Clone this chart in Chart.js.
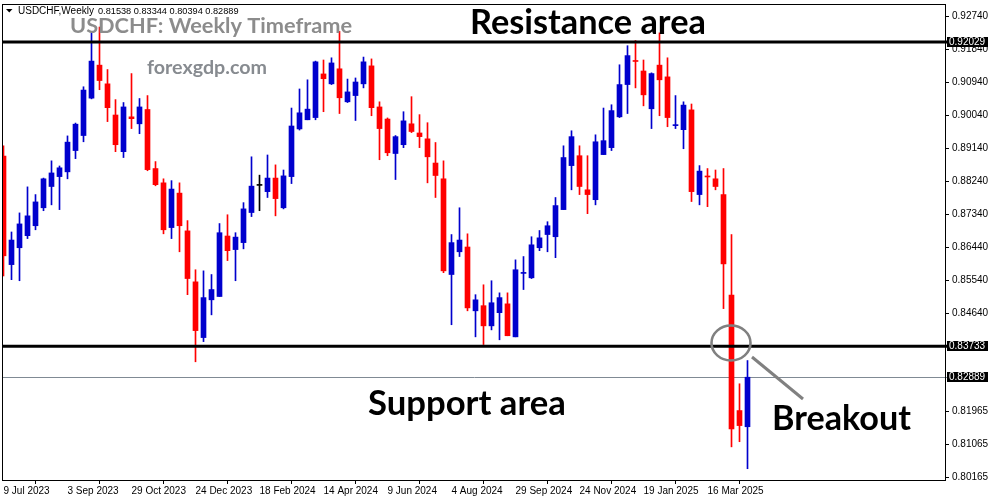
<!DOCTYPE html>
<html><head><meta charset="utf-8">
<script src="https://cdn.jsdelivr.net/npm/chart.js@4.4.1/dist/chart.umd.min.js"></script>
<style>html,body{margin:0;padding:0;background:#fff;overflow:hidden}#wrap{width:991px;height:501px;position:relative}canvas{display:block}</style>
</head><body><div id="wrap"><canvas id="c" width="991" height="501"></canvas></div>
<script>
// Weekly USDCHF candles, 9 Jul 2023 .. 20 Apr 2025 (one entry per week)
const opens = [0.8892,0.8596,0.8642,0.8675,0.8702,0.8751,0.8809,0.8836,0.8849,0.8907,
  0.8948,0.9050,0.9140,0.9089,0.9004,0.8904,0.8999,0.8980,0.9019,0.8858,
  0.8819,0.8697,0.8791,0.8688,0.8549,0.8397,0.8500,0.8509,0.8674,0.8637,
  0.8656,0.8738,0.8812,0.8795,0.8832,0.8751,0.8836,0.8966,0.8991,0.8997,
  0.9116,0.9089,0.9130,0.9040,0.9057,0.9089,0.9138,0.9026,0.8993,0.8899,
  0.8923,0.8980,0.8955,0.8939,0.8873,0.8830,0.8569,0.8631,0.8644,0.8470,
  0.8484,0.8429,0.8465,0.8489,0.8399,0.8572,0.8560,0.8642,0.8678,0.8672,
  0.8746,0.8866,0.8893,0.8800,0.8773,0.8896,0.8915,0.8999,0.9087,0.9152,
  0.9124,0.9021,0.9140,0.9108,0.8975,0.8964,0.9018,0.8787,0.8837,0.8830,
  0.8787,0.8513,0.8198,0.81538];
const highs = [0.8920,0.8685,0.8737,0.8808,0.8787,0.8832,0.8879,0.8865,0.8947,0.8982,
  0.9081,0.9232,0.9244,0.9128,0.9046,0.9038,0.9117,0.9049,0.9057,0.8877,
  0.8830,0.8825,0.8819,0.8716,0.8582,0.8579,0.8569,0.8708,0.8732,0.8683,
  0.8765,0.8890,0.8840,0.8895,0.8868,0.8854,0.9023,0.9075,0.9100,0.9151,
  0.9154,0.9160,0.9232,0.9102,0.9105,0.9162,0.9157,0.9040,0.8996,0.8948,
  0.9013,0.9054,0.9005,0.8983,0.8929,0.8879,0.8678,0.8751,0.8680,0.8514,
  0.8541,0.8552,0.8519,0.8519,0.8609,0.8618,0.8672,0.8689,0.8713,0.8779,
  0.8920,0.8961,0.8920,0.8893,0.8950,0.9023,0.9032,0.9141,0.9193,0.9207,
  0.9154,0.9119,0.9228,0.9160,0.9057,0.9040,0.9034,0.8866,0.8858,0.8854,
  0.8858,0.8678,0.8271,0.83344];
const lows = [0.8565,0.8555,0.8552,0.8667,0.8691,0.8743,0.8759,0.8746,0.8830,0.8885,
  0.8931,0.9048,0.9073,0.8986,0.8904,0.8888,0.8967,0.8953,0.8852,0.8811,
  0.8680,0.8667,0.8631,0.8514,0.8331,0.8386,0.8459,0.8509,0.8607,0.8552,
  0.8639,0.8727,0.8743,0.8779,0.8729,0.8748,0.8817,0.8963,0.8991,0.8991,
  0.9013,0.9087,0.9008,0.9038,0.8989,0.9078,0.9002,0.8882,0.8893,0.8828,
  0.8915,0.8956,0.8915,0.8819,0.8779,0.8574,0.8432,0.8618,0.8470,0.8399,
  0.8378,0.8418,0.8391,0.8402,0.8399,0.8528,0.8558,0.8634,0.8631,0.8615,
  0.8746,0.8800,0.8787,0.8735,0.8759,0.8896,0.8907,0.8997,0.9008,0.9078,
  0.9029,0.8967,0.9002,0.8972,0.8967,0.8912,0.8768,0.8759,0.8754,0.8800,
  0.8476,0.8099,0.8113,0.80394];
const closes = [0.8620,0.8663,0.8707,0.8729,0.8767,0.8830,0.8846,0.8860,0.8930,0.8979,
  0.9072,0.9151,0.9098,0.9024,0.8923,0.9026,0.8994,0.9026,0.8855,0.8814,
  0.8691,0.8802,0.8702,0.8558,0.8416,0.8506,0.8528,0.8683,0.8634,0.8671,
  0.8748,0.8810,0.8812,0.8832,0.8776,0.8838,0.8974,0.9010,0.9020,0.9149,
  0.9103,0.9146,0.9051,0.9067,0.9094,0.9149,0.9024,0.8967,0.8901,0.8945,
  0.8988,0.8959,0.8945,0.8890,0.8839,0.8579,0.8656,0.8663,0.8478,0.8500,
  0.8429,0.8492,0.8506,0.8402,0.8582,0.8573,0.8650,0.8669,0.8702,0.8757,
  0.8888,0.8945,0.8809,0.8787,0.8931,0.8934,0.9016,0.9087,0.9166,0.9150,
  0.9059,0.9117,0.9100,0.8997,0.8976,0.9031,0.8795,0.8851,0.8835,0.8809,
  0.8598,0.8148,0.8157,0.82889];
const tickIdx = [0,8,16,24,32,40,48,56,64,72,80,88];
const tickLabels = ['9 Jul 2023','3 Sep 2023','29 Oct 2023','24 Dec 2023','18 Feb 2024','14 Apr 2024',
  '9 Jun 2024','4 Aug 2024','29 Sep 2024','24 Nov 2024','19 Jan 2025','16 Mar 2025'];
const yTicks = [0.92740,0.91840,0.90940,0.90040,0.89140,0.88240,0.87340,0.86440,0.85540,0.84640,0.83733,0.82889,0.81965,0.81065,0.80165];
const resistance = 0.92029;
const support = 0.83733;
const lastPrice = 0.82889;

const BLUE = '#0000cd', RED = '#ff0000', BLACK = '#000000';
const colors = opens.map((o,i)=> closes[i] > o ? BLUE : (closes[i] < o ? RED : BLACK));

function fitText(ctx, txt, left, width, baseline, color, family){
  ctx.save();
  ctx.font = 'bold 100px ' + family;
  const w = ctx.measureText(txt).width;
  const size = 100 * width / w;
  ctx.font = 'bold ' + size.toFixed(2) + 'px ' + family;
  ctx.fillStyle = color;
  ctx.textAlign = 'left';
  ctx.textBaseline = 'alphabetic';
  ctx.fillText(txt, left, baseline);
  ctx.restore();
}

const overlay = {
  id: 'overlay',
  beforeDatasetsDraw(chart){
    const {ctx, chartArea:a, scales:{y}} = chart;
    const py = Math.round(y.getPixelForValue(lastPrice)) + 0.5;
    ctx.save();
    ctx.strokeStyle = '#808a94'; ctx.lineWidth = 1;
    ctx.beginPath(); ctx.moveTo(a.left, py); ctx.lineTo(947, py); ctx.stroke();
    ctx.restore();
  },
  afterDatasetsDraw(chart){
    const {ctx, chartArea:a, scales:{y}} = chart;
    ctx.save();
    ctx.strokeStyle = '#000'; ctx.lineWidth = 3;
    [resistance, support].forEach(v=>{
      const py = y.getPixelForValue(v);
      ctx.beginPath(); ctx.moveTo(a.left, py); ctx.lineTo(947, py); ctx.stroke();
    });
    ctx.lineWidth = 1;
    ctx.strokeRect(a.left + 0.5, a.top + 0.5, a.right - a.left, a.bottom - a.top);
    ctx.restore();
  },
  afterDraw(chart){
    const {ctx, scales:{y}} = chart;
    ctx.save();
    // header
    ctx.fillStyle = '#000';
    ctx.beginPath(); ctx.moveTo(6,9); ctx.lineTo(12.5,9); ctx.lineTo(9.25,12.5); ctx.closePath(); ctx.fill();
    ctx.textBaseline = 'alphabetic'; ctx.textAlign = 'left';
    ctx.font = '10px "Liberation Sans"';
    ctx.fillText('USDCHF,Weekly', 18, 13.5);
    ctx.font = '9.2px "Liberation Sans"';
    ctx.fillText([opens[93],highs[93],lows[93],closes[93]].map(v=>v.toFixed(5)).join(' '), 98, 13.5);
    // titles
    fitText(ctx, 'USDCHF: Weekly Timeframe', 70, 282, 33, '#8c8c8c', 'Lato');
    fitText(ctx, 'forexgdp.com', 147, 120, 73.5, '#878b90', 'Lato');
    fitText(ctx, 'Resistance area', 470, 236, 34, '#000', 'Lato');
    fitText(ctx, 'Support area', 368, 198, 415, '#000', 'Lato');
    fitText(ctx, 'Breakout', 772, 139, 430, '#000', 'Lato');
    // breakout circle and pointer
    ctx.strokeStyle = '#808080'; ctx.lineWidth = 2.6;
    ctx.beginPath(); ctx.ellipse(731, 343, 19.5, 17.5, 0, 0, Math.PI*2); ctx.stroke();
    ctx.lineWidth = 3;
    ctx.beginPath(); ctx.moveTo(752, 357); ctx.lineTo(803, 399); ctx.stroke();
    // price label boxes
    ctx.font = '10px "Liberation Sans"'; ctx.textBaseline = 'middle';
    [resistance, support, lastPrice].forEach(v=>{
      const py = Math.round(y.getPixelForValue(v));
      ctx.fillStyle = '#000'; ctx.fillRect(947, py - 5, 41, 10);
      ctx.fillStyle = '#fff'; ctx.fillText(v.toFixed(5), 949, py + 0.5);
    });
    ctx.restore();
  }
};

const axisFont = {family: '"Liberation Sans"', size: 10};
new Chart(document.getElementById('c'), {
  type: 'bar',
  data: {
    datasets: [
      { data: lows.map((l,i)=>({x:i, y:[l, highs[i]]})), backgroundColor: colors, barThickness: 1, grouped: false, order: 2, borderWidth: 0 },
      { data: opens.map((o,i)=>({x:i, y:[o, closes[i]]})), backgroundColor: colors, barThickness: 5, grouped: false, order: 1, borderWidth: 0, minBarLength: 1 }
    ]
  },
  options: {
    responsive: false, animation: false, devicePixelRatio: 1,
    layout: { padding: { left: 2, top: 4, right: 0, bottom: 0 } },
    plugins: { legend: {display:false}, tooltip: {enabled:false} },
    scales: {
      x: {
        type: 'linear', position: 'bottom', min: -0.1875, max: 117.6875, offset: false,
        afterBuildTicks: s => { s.ticks = tickIdx.map(v=>({value:v})); },
        afterFit: s => { s.height = 21; s.paddingLeft = 0; s.paddingRight = 0; },
        ticks: { autoSkip: false, maxRotation: 0, minRotation: 0, align: 'start', padding: 1, color: '#000', font: axisFont,
                 callback: (v, i) => tickLabels[i] },
        grid: { display: true, drawOnChartArea: false, drawTicks: true, tickLength: 4, color: '#000', lineWidth: 1 },
        border: { display: false }
      },
      y: {
        type: 'linear', position: 'right', min: 0.80086, max: 0.930673,
        afterBuildTicks: s => { s.ticks = yTicks.map(v=>({value:v})); },
        afterFit: s => { s.width = 46; s.paddingTop = 0; s.paddingBottom = 0; },
        ticks: { padding: 3, color: '#000', font: axisFont, callback: v => v.toFixed(5) },
        grid: { display: true, drawOnChartArea: false, drawTicks: true, tickLength: 4, color: '#000', lineWidth: 1 },
        border: { display: false }
      }
    }
  },
  plugins: [overlay]
});
</script></body></html>
